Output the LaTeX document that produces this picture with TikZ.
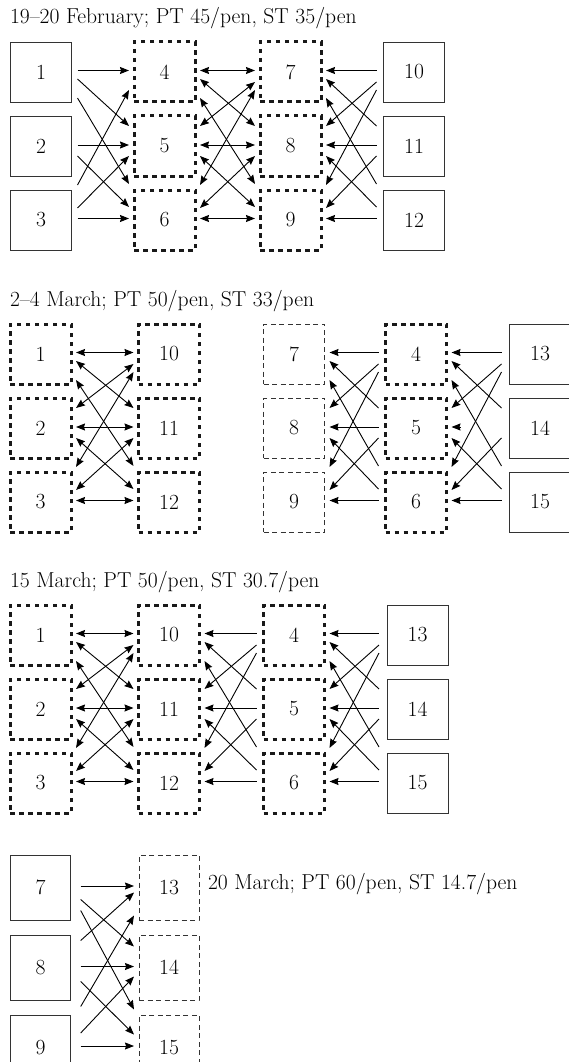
\documentclass[tikz,border=0pt]{standalone}
\usetikzlibrary{arrows.meta}
\newcommand\nfont{\fontsize{21.6}{24}\selectfont}
\tikzset{
  >={Stealth[length=9pt,width=7pt,inset=1pt]},
  bx/.style={minimum width=61pt, minimum height=60pt, inner sep=0pt, outer sep=0pt, font=\nfont, text=black},
  solidbox/.style={bx, draw=black!80, line width=0.9pt},
  dotbox/.style={bx, draw=black!90, line width=3pt, dash pattern=on 4.5pt off 4.5pt},
  dashbox/.style={bx, draw=black!80, line width=0.8pt, dash pattern=on 5pt off 3.5pt},
  fw/.style={line width=0.9pt, ->},
  bw/.style={line width=0.9pt, <-},
  bi/.style={line width=0.9pt, <->},
  title/.style={anchor=base west, inner sep=0pt, outer sep=0pt, font=\nfont},
}
\newcommand\boxcol[6]{%
  \foreach \lab [count=\k] in {#6} \node[#5] (#1\k) at (#2,{#3+#4*(\k-1)}) {\lab};}
\newcommand\links[6]{%
  \foreach \i/\j/\a/\b in #6
    \draw[#1] ([xshift=#4pt,yshift=\a pt]#2\i.east) -- ([xshift=-#5pt,yshift=\b pt]#3\j.west);}
\def\full{1/1/1.5/1.5, 1/2/-7/20, 1/3/-26/36, 2/1/20/-10, 2/2/1/1, 2/3/-10/13, 3/1/35/-18, 3/2/12/-10, 3/3/1.5/1.5}
\def\noTwoOne{1/1/1.5/1.5, 1/2/-7/20, 1/3/-26/36, 2/2/1/1, 2/3/-10/13, 3/1/35/-18, 3/2/12/-10, 3/3/1.5/1.5}
\def\noMid{1/1/1.5/1.5, 1/2/-7/20, 1/3/-26/36, 2/1/20/-10, 2/3/-10/13, 3/1/35/-18, 3/2/12/-10, 3/3/1.5/1.5}
\def\fullB{1/1/1.5/1.5, 1/2/-12/21, 1/3/-23/38, 2/1/27/-5, 2/2/1/1, 2/3/-14/13, 3/1/41/-28, 3/2/14.5/-9, 3/3/1.5/1.5}
\begin{document}
\begin{tikzpicture}[x=1pt,y=-1pt]
\useasboundingbox (0,0) rectangle (568,1062);
% ---------- section 1
\node[title] (t1) at (10,24) {19--20 February; PT 45/pen, ST 35/pen};
\boxcol{s1a}{41}{72}{74}{solidbox}{1,2,3}
\boxcol{s1b}{164.5}{72}{74}{dotbox}{4,5,6}
\boxcol{s1c}{290.5}{72}{74}{dotbox}{7,8,9}
\boxcol{s1d}{414}{72}{74}{solidbox}{10,11,12}
\links{fw}{s1a}{s1b}{6}{5}{\noTwoOne}
\links{bi}{s1b}{s1c}{5}{5}{\full}
\links{bw}{s1c}{s1d}{5}{7}{\full}
% ---------- section 2
\node[title] (t2) at (10,306) {2--4 March; PT 50/pen, ST 33/pen};
\boxcol{s2a}{40.5}{354}{74}{dotbox}{1,2,3}
\boxcol{s2b}{169}{354}{74}{dotbox}{10,11,12}
\boxcol{s2c}{294}{354}{74}{dashbox}{7,8,9}
\boxcol{s2d}{416}{354}{74}{dotbox}{4,5,6}
\boxcol{s2e}{540}{354}{74}{solidbox}{13,14,15}
\links{bi}{s2a}{s2b}{5}{5}{\full}
\links{bw}{s2c}{s2d}{5}{7}{\full}
\links{bw}{s2d}{s2e}{5}{8}{\noMid}
\draw[bw] ([xshift=5pt,yshift=1pt]s2d2.east) -- ++(9.5pt,0);
% ---------- section 3
\node[title] (t3) at (10,587) {15 March; PT 50/pen, ST 30.7/pen};
\boxcol{s3a}{40.5}{635}{74}{dotbox}{1,2,3}
\boxcol{s3b}{169}{635}{74}{dotbox}{10,11,12}
\boxcol{s3c}{294}{635}{74}{dotbox}{4,5,6}
\boxcol{s3d}{417.5}{635}{74}{solidbox}{13,14,15}
\links{bi}{s3a}{s3b}{5}{5}{\full}
\links{bw}{s3b}{s3c}{5}{7}{\full}
\links{bw}{s3c}{s3d}{5}{8}{\full}
% ---------- section 4
\boxcol{s4a}{40.7}{887.5}{80}{solidbox,minimum width=60pt,minimum height=65pt}{7,8,9}
\boxcol{s4b}{169}{887.5}{80}{dashbox,minimum width=60pt,minimum height=65pt}{13,14,15}
\links{fw}{s4a}{s4b}{10}{5}{\fullB}
\node[title] (t4) at (208,889) {20 March; PT 60/pen, ST 14.7/pen};
\end{tikzpicture}
\end{document}
